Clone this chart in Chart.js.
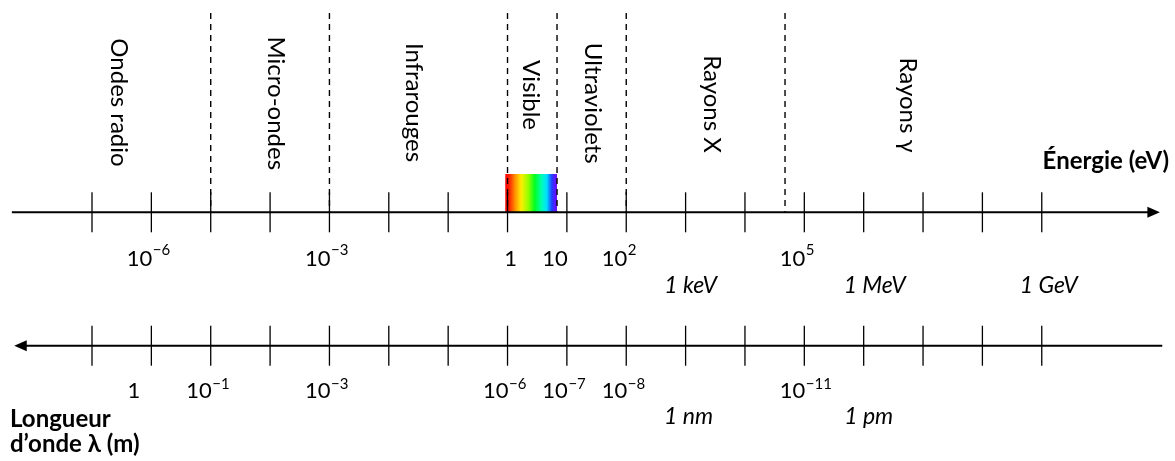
<!DOCTYPE html>
<html lang="fr">
<head>
<meta charset="utf-8">
<title>Spectre électromagnétique</title>
<script src="https://cdn.jsdelivr.net/npm/chart.js@4.4.1/dist/chart.umd.min.js"></script>
<style>
  html, body { margin: 0; padding: 0; background: #fff; }
  #wrap { width: 1175px; height: 461px; }
  canvas { display: block; }
</style>
</head>
<body>
<div id="wrap"><canvas id="spectre" width="1175" height="461"></canvas></div>
<script>
// ---- Data (all horizontal values are log10 of the photon energy in eV) ----

// One graduation per decade of energy
const energyDecades = [-7, -6, -5, -4, -3, -2, -1, 0, 1, 2, 3, 4, 5, 6, 7, 8, 9];

// Energy axis labels; "|" separates the base from its exponent
const energyLabelAt   = [-6, -3, 0, 1, 2, 5];
const energyLabelText = ['10|−6', '10|−3', '1', '10|', '10|2', '10|5'];
const energyUnitAt    = [3, 6, 9];
const energyUnitText  = ['1 keV', '1 MeV', '1 GeV'];

// Wavelength axis labels, written under the matching energy decade
const waveLabelAt   = [-6, -5, -3, 0, 1, 2, 5];
const waveLabelText = ['1', '10|−1', '10|−3', '10|−6', '10|−7', '10|−8', '10|−11'];
const waveUnitAt    = [3, 6];
const waveUnitText  = ['1 nm', '1 pm'];

// Domains of the spectrum and the limits between them
const bandNames  = ['Ondes radio', 'Micro-ondes', 'Infrarouges', 'Visible', 'Ultraviolets', 'Rayons X', 'Rayons γ'];
const bandLimits = [-5, -3, 0, 0.834, 2, 4.675];
const visibleRange = [-0.04, 0.834];

// ---- Layout ----
const L = {
  xMin: -8.5499, xMax: 11.2446,      // horizontal scale range
  energyY: 212.3, waveY: 345.7,      // rows of the two axes (vertical scale = pixel rows)
  tickHalf: 20,
  limitTop: 13,
  spectrumTop: 174,
  energyAxis: [-8.35, 10.99],        // left end, arrow tip
  waveAxis: [-8.31, 11.03],          // arrow tip, right end
  arrowLen: 12.5, arrowHalf: 5.5,
  bandLabelAt: [-6.557, -3.90, -1.576, 0.395, 1.435, 3.44, 6.735],
  bandLabelY:  [102.5, 103.3, 102.5, 95, 103.3, 104, 105],
  energyNumY: 266, energyExpY: 255, energyUnitY: 293,
  waveNumY: 398, waveExpY: 389, waveUnitY: 424,
  energyPlainDx: { '1': 3 },
  wavePlainDx: { '1': -17.5 },
  energyUnitDx: [5, 11, 7],
  waveUnitDx: [3, 5]
};

const FAMILY = 'Lato, "Noto Sans", "DejaVu Sans", sans-serif';
const F = {
  band: '24px ' + FAMILY,
  num: '22px ' + FAMILY,
  exp: '15px ' + FAMILY,
  unit: 'italic 23px ' + FAMILY,
  title: 'bold 24px ' + FAMILY
};

// ---- Datasets ----
const pt = (x, y) => ({ x, y });

const datasets = [];

// axis lines
datasets.push({
  data: [pt(L.energyAxis[0], L.energyY), pt(L.energyAxis[1] - 0.1, L.energyY)],
  showLine: true, borderColor: '#000', borderWidth: 2, pointRadius: 0
});
datasets.push({
  data: [pt(L.waveAxis[0] + 0.1, L.waveY), pt(L.waveAxis[1], L.waveY)],
  showLine: true, borderColor: '#000', borderWidth: 2, pointRadius: 0
});

// graduations on both axes
[L.energyY, L.waveY].forEach(row => {
  datasets.push({
    data: energyDecades.map(d => pt(d, row)),
    showLine: false,
    pointStyle: 'line', rotation: 90,
    pointRadius: L.tickHalf, pointHoverRadius: L.tickHalf,
    pointBorderColor: '#000', pointBorderWidth: 1.3,
    pointBackgroundColor: '#000'
  });
});

// dashed limits between domains
bandLimits.forEach(b => {
  datasets.push({
    data: [pt(b, L.limitTop), pt(b, L.energyY)],
    showLine: true, borderColor: '#000', borderWidth: 1.4,
    borderDash: [6, 5], pointRadius: 0
  });
});

// visible light band (drawn underneath everything else)
datasets.push({
  data: [pt(visibleRange[0], L.spectrumTop), pt(visibleRange[1], L.spectrumTop)],
  showLine: true, borderWidth: 0, pointRadius: 0,
  fill: { value: L.energyY },
  backgroundColor: (c) => {
    const chart = c.chart;
    if (!chart.chartArea) return 'rgba(0,0,0,0)';
    const xs = chart.scales.x;
    const g = chart.ctx.createLinearGradient(
      xs.getPixelForValue(visibleRange[0]), 0, xs.getPixelForValue(visibleRange[1]), 0);
    g.addColorStop(0.00, '#ff0000');
    g.addColorStop(0.07, '#ff1a00');
    g.addColorStop(0.19, '#ff9000');
    g.addColorStop(0.31, '#ffee00');
    g.addColorStop(0.45, '#90ff00');
    g.addColorStop(0.57, '#00ff20');
    g.addColorStop(0.70, '#00ffb0');
    g.addColorStop(0.80, '#00e0ff');
    g.addColorStop(0.90, '#2040ff');
    g.addColorStop(1.00, '#7a00ff');
    return g;
  }
});

// ---- Arrowheads and texts ----
const decorations = {
  id: 'decorations',
  afterDatasetsDraw(chart) {
    const ctx = chart.ctx;
    const xs = chart.scales.x, ys = chart.scales.y;
    const X = v => xs.getPixelForValue(v);
    const Y = v => ys.getPixelForValue(v);

    ctx.save();
    ctx.fillStyle = '#000';

    // arrowheads
    const eTip = X(L.energyAxis[1]), eY = Y(L.energyY);
    ctx.beginPath();
    ctx.moveTo(eTip, eY);
    ctx.lineTo(eTip - L.arrowLen, eY - L.arrowHalf);
    ctx.lineTo(eTip - L.arrowLen, eY + L.arrowHalf);
    ctx.closePath();
    ctx.fill();
    const wTip = X(L.waveAxis[0]), wY = Y(L.waveY);
    ctx.beginPath();
    ctx.moveTo(wTip, wY);
    ctx.lineTo(wTip + L.arrowLen, wY - L.arrowHalf);
    ctx.lineTo(wTip + L.arrowLen, wY + L.arrowHalf);
    ctx.closePath();
    ctx.fill();

    // domain names, written downward
    ctx.font = F.band;
    ctx.textAlign = 'center';
    ctx.textBaseline = 'middle';
    bandNames.forEach((name, i) => {
      ctx.save();
      ctx.translate(X(L.bandLabelAt[i]), Y(L.bandLabelY[i]));
      ctx.rotate(Math.PI / 2);
      ctx.fillText(name, 0, 0);
      ctx.restore();
    });

    // powers of ten: base ends on the graduation, exponent starts there
    ctx.textBaseline = 'alphabetic';
    const powers = (at, texts, numY, expY, plainDx) => {
      at.forEach((v, i) => {
        const x = X(v);
        const t = texts[i];
        if (t.includes('|')) {
          const [base, exp] = t.split('|');
          ctx.font = F.num;
          ctx.textAlign = 'right';
          ctx.fillText(base, x + 1, Y(numY));
          if (exp) {
            ctx.font = F.exp;
            ctx.textAlign = 'left';
            ctx.fillText(exp, x + 1.5, Y(expY));
          }
        } else {
          ctx.font = F.num;
          ctx.textAlign = 'center';
          ctx.fillText(t, x + (plainDx[t] || 0), Y(numY));
        }
      });
    };
    powers(energyLabelAt, energyLabelText, L.energyNumY, L.energyExpY, L.energyPlainDx);
    powers(waveLabelAt, waveLabelText, L.waveNumY, L.waveExpY, L.wavePlainDx);

    // named units
    ctx.font = F.unit;
    ctx.textAlign = 'center';
    energyUnitAt.forEach((v, i) => ctx.fillText(energyUnitText[i], X(v) + L.energyUnitDx[i], Y(L.energyUnitY)));
    waveUnitAt.forEach((v, i) => ctx.fillText(waveUnitText[i], X(v) + L.waveUnitDx[i], Y(L.waveUnitY)));

    // axis titles
    ctx.font = F.title;
    ctx.textAlign = 'right';
    ctx.fillText('Énergie (eV)', 1169, 169);
    ctx.textAlign = 'left';
    ctx.fillText('Longueur', 10, 427);
    ctx.fillText('d’onde λ (m)', 10, 452);

    ctx.restore();
  }
};

new Chart(document.getElementById('spectre'), {
  type: 'scatter',
  data: { datasets },
  options: {
    responsive: false,
    devicePixelRatio: 1,
    animation: false,
    events: [],
    layout: { padding: 0, autoPadding: false },
    plugins: { legend: { display: false }, tooltip: { enabled: false }, title: { display: false } },
    scales: {
      x: { type: 'linear', min: L.xMin, max: L.xMax, display: false },
      y: { type: 'linear', min: 0, max: 461, reverse: true, display: false }
    }
  },
  plugins: [decorations]
});
</script>
</body>
</html>
